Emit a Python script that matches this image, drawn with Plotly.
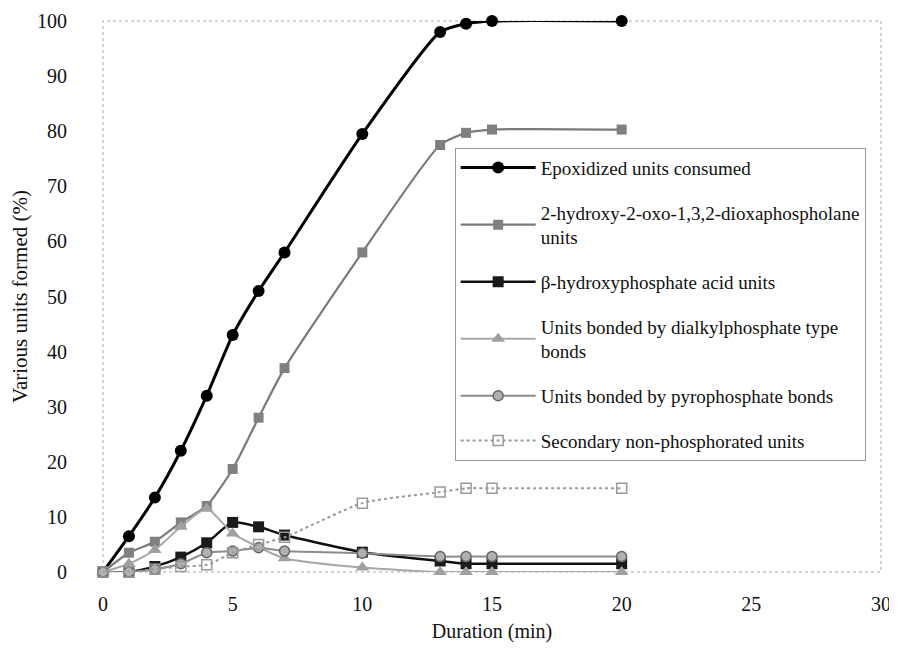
import plotly.graph_objects as go

duration = [0, 1, 2, 3, 4, 5, 6, 7, 10, 13, 14, 15, 20]
epoxidized = [0, 6.5, 13.5, 22, 32, 43, 51, 58, 79.5, 98, 99.5, 100, 100]
dioxaphospholane = [0, 3.5, 5.5, 9, 12, 18.7, 28, 37, 58, 77.5, 79.7, 80.3, 80.3]
beta_hydroxy = [0, 0, 1, 2.7, 5.3, 9, 8.2, 6.7, 3.6, 2, 1.5, 1.5, 1.5]
dialkyl = [0, 1.5, 4, 8.2, 11.5, 7, 4.5, 2.5, 0.8, 0, 0, 0, 0]
pyro = [0, 0, 0.5, 1.5, 3.5, 3.8, 4.4, 3.8, 3.4, 2.8, 2.8, 2.8, 2.8]
secondary = [0, 0, 0.5, 1, 1.3, 3.5, 5, 6.3, 12.5, 14.5, 15.2, 15.2, 15.2]

names = [
    "Epoxidized units consumed",
    "2-hydroxy-2-oxo-1,3,2-dioxaphospholane<br>units",
    "β-hydroxyphosphate acid units",
    "Units bonded by dialkylphosphate type<br>bonds",
    "Units bonded by pyrophosphate bonds",
    "Secondary non-phosphorated units",
]

x_ticks = [0, 5, 10, 15, 20, 25, 30]
y_ticks = [0, 10, 20, 30, 40, 50, 60, 70, 80, 90, 100]

styles = [
    dict(series=epoxidized, color="#000000", width=3, dash="solid",
         marker=dict(symbol="circle", size=12, color="#000000")),
    dict(series=dioxaphospholane, color="#7a7a7a", width=2.2, dash="solid",
         marker=dict(symbol="square", size=10, color="#808080")),
    dict(series=beta_hydroxy, color="#111111", width=2.5, dash="solid",
         marker=dict(symbol="square", size=11, color="#1a1a1a")),
    dict(series=dialkyl, color="#a8a8a8", width=2, dash="solid",
         marker=dict(symbol="triangle-up", size=12, color="#a0a0a0")),
    dict(series=pyro, color="#8c8c8c", width=2, dash="solid",
         marker=dict(symbol="circle", size=10, color="#b0b0b0",
                     line=dict(color="#666666", width=1.5))),
    dict(series=secondary, color="#9a9a9a", width=2, dash="dot",
         marker=dict(symbol="square-open", size=10, color="#999999",
                     line=dict(width=1.5))),
]

fig = go.Figure()
for i, (nm, st) in enumerate(zip(names, styles)):
    fig.add_trace(go.Scatter(
        x=duration, y=st["series"], name=nm, mode="lines+markers",
        line=dict(color=st["color"], width=st["width"], dash=st["dash"],
                  shape="spline", smoothing=0.6),
        marker=st["marker"], legendgroup=f"g{i}", cliponaxis=False,
    ))

serif = "Liberation Serif"
fig.update_layout(
    width=889, height=635,
    margin=dict(l=95, r=16, t=13, b=71, autoexpand=False),
    paper_bgcolor="white", plot_bgcolor="white",
    font=dict(family=serif, color="#111111", size=20),
    showlegend=True,
    legend=dict(
        x=0.452, y=0.77, xanchor="left", yanchor="top",
        bgcolor="white", bordercolor="#999999", borderwidth=1,
        font=dict(family=serif, size=19, color="#111111"),
        tracegroupgap=17, itemwidth=75,
    ),
    xaxis=dict(
        range=[0, 30], tickvals=x_ticks, ticktext=[str(v) for v in x_ticks],
        showgrid=False, zeroline=False, showline=False, ticks="",
        ticklabelstandoff=18, automargin=False,
        title=dict(text="Duration (min)", font=dict(size=20, family=serif), standoff=23),
    ),
    yaxis=dict(
        range=[0, 100], tickvals=y_ticks, ticktext=[str(v) for v in y_ticks],
        showgrid=False, zeroline=False, showline=False, ticks="",
        ticklabelstandoff=35, automargin=False,
        title=dict(text="Various units formed (%)", font=dict(size=21, family=serif), standoff=18),
    ),
    shapes=[dict(type="rect", xref="paper", yref="paper", x0=0, y0=0, x1=1, y1=1,
                 line=dict(color="#aaaaaa", width=1, dash="dot"), layer="below")],
)

fig.write_html("out.html")
